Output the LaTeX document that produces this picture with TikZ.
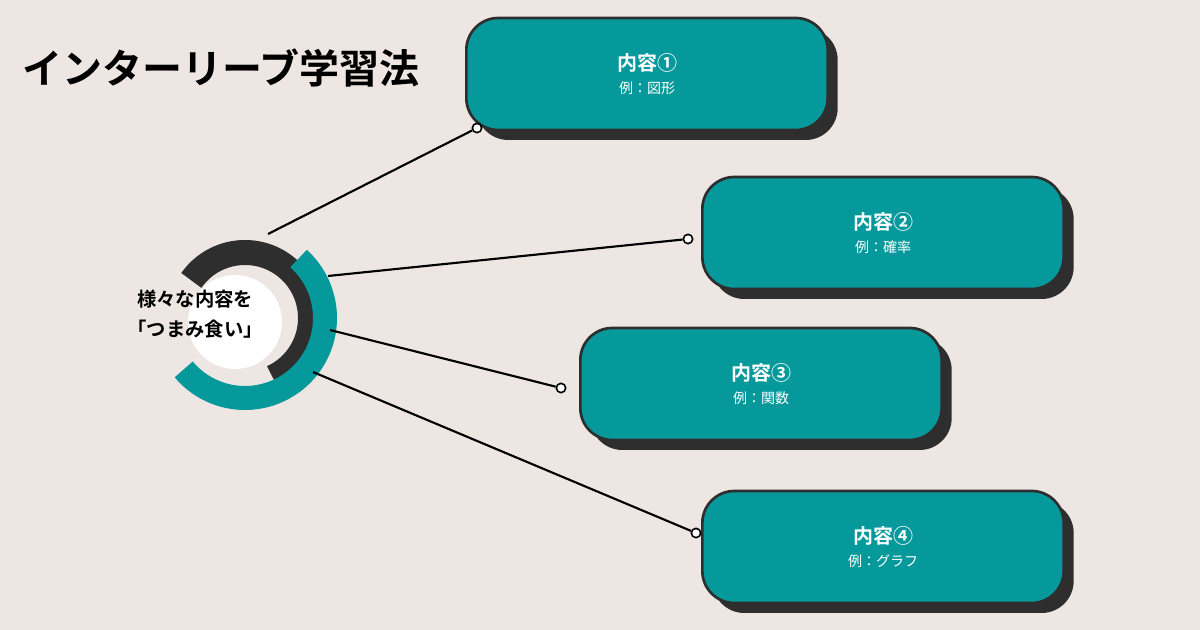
\documentclass[tikz,border=0pt]{standalone}
\usepackage{fontspec}
\setmainfont{Noto Sans CJK JP}
\newfontfamily\jpbold{Noto Sans CJK JP Bold}
\usetikzlibrary{positioning}
\definecolor{bg}{HTML}{EDE6E3}
\definecolor{teal}{HTML}{06999C}
\definecolor{ink}{HTML}{2F2E2E}
\tikzset{
  topic/.style={draw=ink,line width=2pt,fill=teal,rounded corners=24pt,minimum width=271pt,minimum height=84pt,text=white,align=center},
  shade/.style={fill=ink,rounded corners=24pt,minimum width=271pt,minimum height=84pt},
  dot/.style={circle,draw=black,fill=white,line width=1.2pt,inner sep=0pt,minimum size=7pt},
  link/.style={line width=1.6pt,black}
}
\newcommand{\topictext}[2]{{\jpbold\fontsize{15}{18}\selectfont #1}\\[5pt]{\fontsize{10.5}{13}\selectfont 例：#2}}
\begin{document}
\begin{tikzpicture}[x=0.75pt,y=-0.75pt]
\fill[bg] (0,0) rectangle (1200,630);
\useasboundingbox (0,0) rectangle (1200,630);
% title
\node[anchor=west,inner sep=0pt] (title) at (22,68) {\jpbold\fontsize{30}{36}\selectfont インターリーブ学習法};
% rings
\fill[white] (235,322) circle (47);
\draw[ink,line width=18.75pt] (245,318) ++(-145:65.5) arc (-145:65:65.5);
\draw[teal,line width=18pt] (245,318) ++(-48:80) arc (-48:140:80);
\node[text=black,align=center,inner sep=0pt,font=\jpbold\fontsize{14.5}{22}\selectfont] (center) at (195,314) {様々な内容を\\「つまみ食い」};
% boxes
\foreach \n/\x/\y/\t in {a/647/74/{\topictext{内容①}{図形}},b/883/233/{\topictext{内容②}{確率}},c/761/384/{\topictext{内容③}{関数}},d/883/547/{\topictext{内容④}{グラフ}}}{
  \node[shade] at (\x+10,\y+10) {};
  \node[topic] (\n) at (\x,\y) {\t};
}
% connectors
\node[dot] (pa) at (477,128) {};
\node[dot] (pb) at (688,239) {};
\node[dot] (pc) at (561,388) {};
\node[dot] (pd) at (696,533) {};
\coordinate (ra) at (268,234);
\coordinate (rb) at (328,276);
\coordinate (rc) at (330,330);
\coordinate (rd) at (313,372);
\draw[link] (ra) -- (pa);
\draw[link] (rb) -- (pb);
\draw[link] (rc) -- (pc);
\draw[link] (rd) -- (pd);
\end{tikzpicture}
\end{document}
